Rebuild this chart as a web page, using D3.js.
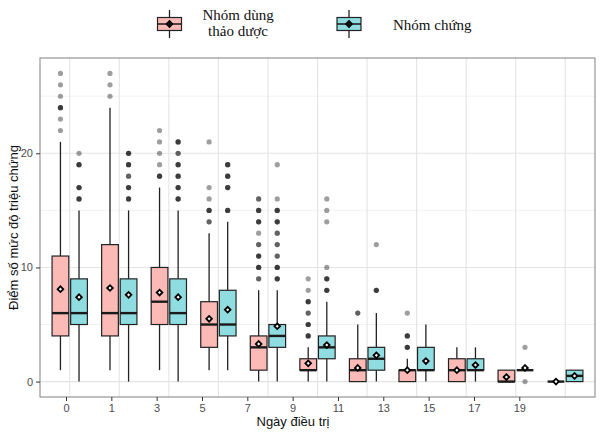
<!DOCTYPE html>
<html><head><meta charset="utf-8">
<script src="https://cdn.jsdelivr.net/npm/d3@7"></script>
<style>body{margin:0;background:#fff}svg{display:block}</style>
</head><body><svg id="c" width="602" height="435"></svg>
<script>
// ---- data ----
const days = ["0","1","3","5","7","9","11","13","15","17","19"];
const groupNames = ["Nhóm dùng thảo dược", "Nhóm chứng"];

// Herbal group (pink)
const herbLow    = [1, 1, 1, 1, 0, 0, 0, 0, 0, 0, 0];
const herbQ1     = [4, 4, 5, 3, 1, 1, 0, 0, 0, 0, 0];
const herbMedian = [6, 6, 7, 5, 3, 1, 1, 1, 1, 0, 0];
const herbQ3     = [11, 12, 10, 7, 4, 2, 2, 1, 2, 1, 0];
const herbHigh   = [21, 24, 17, 13, 8, 3, 5, 2, 3, 1, 0];
const herbMean   = [8.1, 8.2, 7.8, 5.5, 3.3, 1.6, 1.2, 1.0, 1.0, 0.4, 0];
const herbOutliers = [
  [27, 26, 25, 24, 24, 24, 23, 22],
  [27, 26, 25],
  [22, 21, 20, 19, 18, 18, 18],
  [21, 17, 16, 15, 15, 15, 14, 14],
  [16, 16, 15, 15, 15, 14, 14, 14, 13, 12, 12, 11, 11, 11, 10, 10, 10, 9, 9],
  [9, 8, 7, 7, 7, 6, 6, 5, 5, 5, 4, 4, 4],
  [6, 6],
  [6, 4, 4, 4, 3, 3, 3],
  [], [], []
];

// Control group (teal)
const ctrlLow    = [0, 0, 0, 1, 0, 0, 0, 0, 0, 1, 0];
const ctrlQ1     = [5, 5, 5, 4, 3, 2, 1, 1, 1, 1, 0];
const ctrlMedian = [6, 6, 6, 5, 4, 3, 2, 1, 1, 1, 0.5];
const ctrlQ3     = [9, 9, 9, 8, 5, 4, 3, 3, 2, 1, 1];
const ctrlHigh   = [15, 15, 15, 14, 8, 7, 6, 5, 3, 1, 1];
const ctrlMean   = [7.4, 7.6, 7.4, 6.3, 4.85, 3.2, 2.3, 1.8, 1.45, 1.2, 0.5];
const ctrlOutliers = [
  [20, 19, 19, 19, 17, 17, 17, 16, 16, 16],
  [20, 20, 20, 19, 19, 19, 18, 18, 17, 17, 17, 16, 16, 16],
  [21, 21, 21, 20, 20, 19, 19, 19, 18, 18, 18, 17, 17, 17, 16, 16, 16],
  [19, 19, 19, 18, 18, 18, 17, 17, 17, 15, 15, 15],
  [19, 16, 15, 15, 15, 14, 14, 14, 13, 13, 12, 12, 11, 11, 10, 10, 10, 9, 9, 9],
  [16, 15, 14, 10, 9, 9, 9, 8, 8, 8],
  [12, 8, 8, 8],
  [], [],
  [3, 0],
  []
];

const yTicks = [0, 10, 20];
const yMinor = [5, 15, 25];

// ---- build ----
function build(lo, q1, med, q3, hi, mean, outl, g) {
  return days.map((d, i) => ({day: d, g, lo: lo[i], q1: q1[i], med: med[i], q3: q3[i], hi: hi[i], mean: mean[i], out: outl[i]}));
}
const boxes = build(herbLow, herbQ1, herbMedian, herbQ3, herbHigh, herbMean, herbOutliers, 0)
  .concat(build(ctrlLow, ctrlQ1, ctrlMedian, ctrlQ3, ctrlHigh, ctrlMean, ctrlOutliers, 1));

const fills = ["#fcbab6", "#8fdde0"];
const panel = {l: 40, r: 595, t: 58, b: 397};

const svg = d3.select("#c");
const x = d3.scalePoint().domain(days).range([panel.l, panel.r]).padding(0.6);
const xTickScale = d3.scalePoint().domain(days).range([66, 519.3]);
const dodge = d3.scaleBand().domain([0, 1]).range([-x.step() * 0.375, x.step() * 0.375]);
const boxW = dodge.bandwidth() * 0.9;
const y = d3.scaleLinear().domain([-1.35, 28.35]).range([panel.b, panel.t]);

// grid
const grid = svg.append("g");
grid.selectAll(".ym").data(yMinor).join("line")
  .attr("x1", panel.l).attr("x2", panel.r).attr("y1", d => y(d)).attr("y2", d => y(d))
  .attr("stroke", "#ececec").attr("stroke-width", 0.7);
grid.selectAll(".yM").data(yTicks).join("line")
  .attr("x1", panel.l).attr("x2", panel.r).attr("y1", d => y(d)).attr("y2", d => y(d))
  .attr("stroke", "#e4e4e4").attr("stroke-width", 1.1);
grid.selectAll(".xM").data(days).join("line")
  .attr("x1", d => x(d)).attr("x2", d => x(d)).attr("y1", panel.t).attr("y2", panel.b)
  .attr("stroke", "#e4e4e4").attr("stroke-width", 1.1);

// boxes
const bg = svg.append("g").selectAll("g").data(boxes).join("g")
  .attr("transform", d => `translate(${x(d.day) + dodge(d.g) + dodge.bandwidth() / 2},0)`);

bg.append("line").attr("x1", 0).attr("x2", 0)
  .attr("y1", d => y(d.q3)).attr("y2", d => y(d.hi))
  .attr("stroke", "#222").attr("stroke-width", 1.3);
bg.append("line").attr("x1", 0).attr("x2", 0)
  .attr("y1", d => y(d.q1)).attr("y2", d => y(d.lo))
  .attr("stroke", "#222").attr("stroke-width", 1.3);
bg.append("rect").attr("x", -boxW / 2).attr("width", boxW)
  .attr("y", d => y(d.q3)).attr("height", d => y(d.q1) - y(d.q3))
  .attr("fill", d => fills[d.g]).attr("stroke", "#222").attr("stroke-width", 1.2);
bg.append("line").attr("x1", -boxW / 2).attr("x2", boxW / 2)
  .attr("y1", d => y(d.med)).attr("y2", d => y(d.med))
  .attr("stroke", "#1a1a1a").attr("stroke-width", 2.4);
bg.selectAll("circle").data(d => d.out).join("circle")
  .attr("cx", 0).attr("cy", v => y(v)).attr("r", 2.6)
  .attr("fill", "#000").attr("fill-opacity", 0.38);
const dia = d3.symbol().type(d3.symbolSquare).size(16);
bg.append("path").attr("d", dia)
  .attr("transform", d => `translate(0,${y(d.mean)}) rotate(45)`)
  .attr("fill", "#fff").attr("stroke", "#000").attr("stroke-width", 1.8);

// panel border
svg.append("rect").attr("x", panel.l).attr("y", panel.t)
  .attr("width", panel.r - panel.l).attr("height", panel.b - panel.t)
  .attr("fill", "none").attr("stroke", "#808080").attr("stroke-width", 1);

// axes
const xAxis = svg.append("g").attr("transform", `translate(0,${panel.b})`)
  .call(d3.axisBottom(xTickScale).tickSize(4).tickPadding(3));
const yAxis = svg.append("g").attr("transform", `translate(${panel.l},0)`)
  .call(d3.axisLeft(y).tickValues(yTicks).tickSize(4).tickPadding(3));
[xAxis, yAxis].forEach(a => {
  a.select(".domain").remove();
  a.selectAll(".tick line").attr("stroke", "#333");
  a.selectAll(".tick text").attr("fill", "#4d4d4d")
    .attr("font-family", "Liberation Sans, Arial, sans-serif").attr("font-size", 11);
});

// titles
svg.append("text").attr("x", 293).attr("y", 426).attr("text-anchor", "middle")
  .attr("font-family", "Liberation Sans, Arial, sans-serif").attr("font-size", 13)
  .attr("fill", "#111").text("Ngày điều trị");
svg.append("text").attr("transform", `translate(18,${(panel.t + panel.b) / 2}) rotate(-90)`)
  .attr("text-anchor", "middle")
  .attr("font-family", "Liberation Sans, Arial, sans-serif").attr("font-size", 13)
  .attr("fill", "#111").text("Điểm số mức độ triệu chứng");

// legend
const legend = [
  {g: 0, kx: 169.5, lines: ["Nhóm dùng", "thảo dược"], tx: 238, anchor: "middle", ty: [20, 36]},
  {g: 1, kx: 349, lines: ["Nhóm chứng"], tx: 393, anchor: "start", ty: [29.5]}
];
const lg = svg.append("g").selectAll("g").data(legend).join("g");
lg.append("line").attr("x1", d => d.kx).attr("x2", d => d.kx).attr("y1", 10).attr("y2", 38)
  .attr("stroke", "#222").attr("stroke-width", 1.3);
lg.append("rect").attr("x", d => d.kx - 12).attr("y", 17.5).attr("width", 24).attr("height", 13)
  .attr("fill", d => fills[d.g]).attr("stroke", "#222").attr("stroke-width", 1.2);
lg.append("line").attr("x1", d => d.kx - 12).attr("x2", d => d.kx + 12).attr("y1", 24).attr("y2", 24)
  .attr("stroke", "#222").attr("stroke-width", 1.6);
lg.append("path").attr("d", d3.symbol().type(d3.symbolSquare).size(24))
  .attr("transform", d => `translate(${d.kx},24) rotate(45)`)
  .attr("fill", "#111").attr("stroke", "#000");
lg.each(function(d) {
  const t = d3.select(this);
  d.lines.forEach((s, i) => {
    t.append("text").attr("x", d.tx).attr("y", d.ty[i]).attr("text-anchor", d.anchor)
      .attr("font-family", "Liberation Serif, Times New Roman, serif").attr("font-size", 15)
      .attr("fill", "#111").text(s);
  });
});
</script></body></html>
